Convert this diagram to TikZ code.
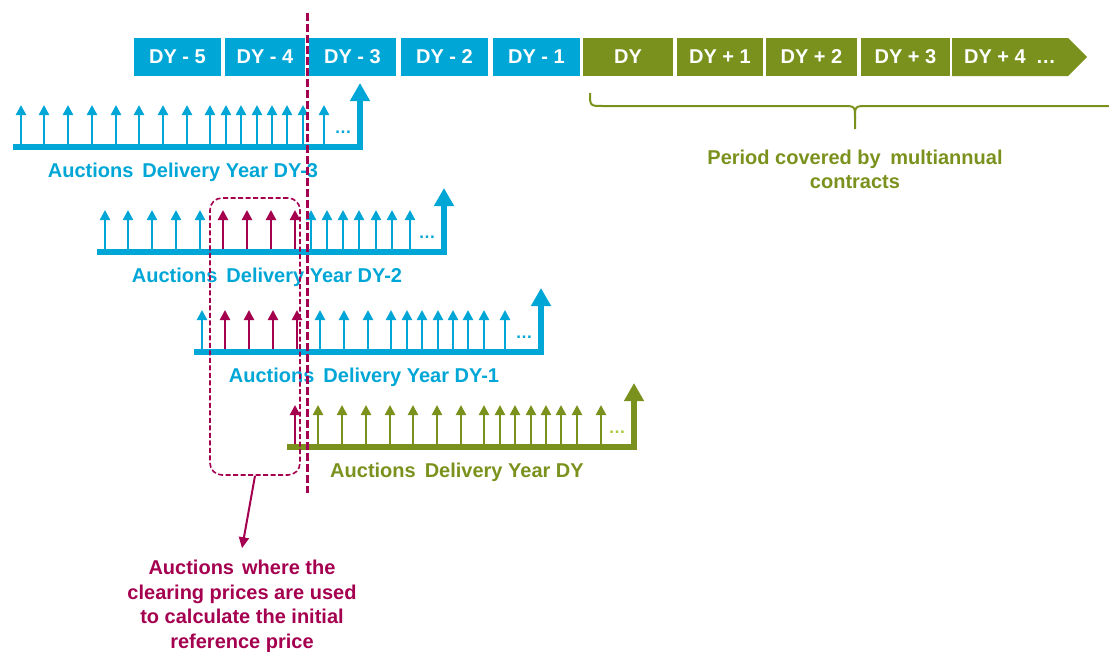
\documentclass[tikz,border=0pt]{standalone}
\usepackage{fontspec}
\setmainfont{Liberation Sans}
\usetikzlibrary{arrows.meta}
\definecolor{eblue}{RGB}{0,166,214}
\definecolor{egreen}{RGB}{122,146,29}
\definecolor{elight}{RGB}{165,200,50}
\definecolor{ered}{RGB}{165,0,80}

\newcommand{\auctionrow}[7]{%
  % #1 name, #2 left x, #3 baseline y, #4 colour, #5 offset/colour list, #6 label, #7 dots colour
  \coordinate (#1s) at (#2,#3);
  \coordinate (#1e) at ({#2+347},#3);
  \foreach \o/\c in {#5} {\draw[smallarrow,\c] ({#2+\o},#3) -- ({#2+\o},{#3-42});}
  \draw[bigarrow,#4] (#1s) -- (#1e) -- ([yshift=64pt]#1e);
  \node[dots, text=#7] (#1dots) at ({#2+330},{#3-13.5}) {…};
  \node[txt, text=#4, anchor=base] (#1lab) at ({#2+170},{#3+30}) {Auctions\hspace{9pt}Delivery Year #6};
}

\begin{document}
\begin{tikzpicture}[x=1pt,y=-1pt,
  txt/.style={font=\bfseries\fontsize{20}{24.5}\selectfont, inner sep=0pt},
  yearbox/.style={txt, text=white, minimum height=38pt},
  smallarrow/.style={line width=2.3pt, -{Triangle[width=10pt,length=10pt]}},
  bigarrow/.style={line width=5.5pt, line join=miter, -{Triangle[width=19pt,length=18pt]}},
  dots/.style={font=\bfseries\fontsize{17}{18}\selectfont, inner sep=0pt, anchor=base},
]
\useasboundingbox (0,0) rectangle (1109,651);

% year boxes
\node[yearbox, fill=eblue, minimum width=87pt] (y5) at (177.5,57) {DY - 5};
\node[yearbox, fill=eblue, minimum width=80pt] (y4) at (265,57) {DY - 4};
\node[yearbox, fill=eblue, minimum width=87pt] (y3) at (352.5,57) {DY - 3};
\node[yearbox, fill=eblue, minimum width=87pt] (y2) at (444.5,57) {DY - 2};
\node[yearbox, fill=eblue, minimum width=87pt] (y1) at (536.5,57) {DY - 1};
\node[yearbox, fill=egreen, minimum width=90pt] (y0) at (628,57) {DY};
\node[yearbox, fill=egreen, minimum width=86pt] (p1) at (720,57) {DY + 1};
\node[yearbox, fill=egreen, minimum width=91pt] (p2) at (811.5,57) {DY + 2};
\node[yearbox, fill=egreen, minimum width=89pt] (p3) at (905.5,57) {DY + 3};
\fill[egreen] (952,38) -- (1068,38) -- (1087,57) -- (1068,76) -- (952,76) -- cycle;
\node[txt, text=white] (p4) at (1010,57) {DY + 4\hspace{10pt}…};

% brace
\draw[egreen, line width=2pt]
  (590,93) .. controls (590,106) .. (603,106) -- (842,106)
  .. controls (855,106) .. (855,118) -- (855,129);
\draw[egreen, line width=2pt]
  (1109,106) -- (868,106) .. controls (855,106) .. (855,118);
\node[txt, text=egreen, align=center] (period) at (855,169.5)
  {Period covered by\hspace{9.5pt}multiannual\\contracts};

% auction rows
\auctionrow{ra}{13}{147}{eblue}{8/eblue,31/eblue,55/eblue,79/eblue,103/eblue,126/eblue,150/eblue,174/eblue,197/eblue,213/eblue,228/eblue,244/eblue,259/eblue,274/eblue,290/eblue,311/eblue}{DY-3}{eblue}
\auctionrow{rb}{97}{252}{eblue}{8/eblue,31/eblue,55/eblue,79/eblue,103/eblue,126/ered,150/ered,174/ered,198/ered,214/eblue,230/eblue,246/eblue,262/eblue,279/eblue,295/eblue,313/eblue}{DY-2}{eblue}
\auctionrow{rc}{194}{352}{eblue}{8/eblue,31/ered,55/ered,79/ered,103/ered,126/eblue,150/eblue,174/eblue,197/eblue,213/eblue,228/eblue,244/eblue,259/eblue,274/eblue,290/eblue,311/eblue}{DY-1}{eblue}
\auctionrow{rd}{287}{447}{egreen}{8/ered,31/egreen,55/egreen,79/egreen,103/egreen,126/egreen,150/egreen,174/egreen,197/egreen,213/egreen,228/egreen,244/egreen,259/egreen,274/egreen,290/egreen,314/egreen}{DY}{elight}

% vertical dashed line
\coordinate (vtop) at (307.5,13);
\coordinate (vbot) at (307.5,493);
\draw[ered, line width=2.5pt, dash pattern=on 8pt off 3pt] (vtop) -- (vbot);

% selection box and note
\node[draw=ered, line width=1.6pt, dash pattern=on 5pt off 2.5pt, rounded corners=12pt,
      minimum width=90pt, minimum height=277pt, inner sep=0pt] (sel) at (255,336.5) {};
\node[txt, text=ered, align=center] (note) at (242,606.5)
  {Auctions\hspace{8pt}where the\\clearing prices are used\\to calculate the initial\\reference price};
\draw[ered, line width=2pt, -{Triangle[width=10pt,length=11pt]}] (sel.south) -- ([yshift=12pt]note.north);
\end{tikzpicture}
\end{document}
